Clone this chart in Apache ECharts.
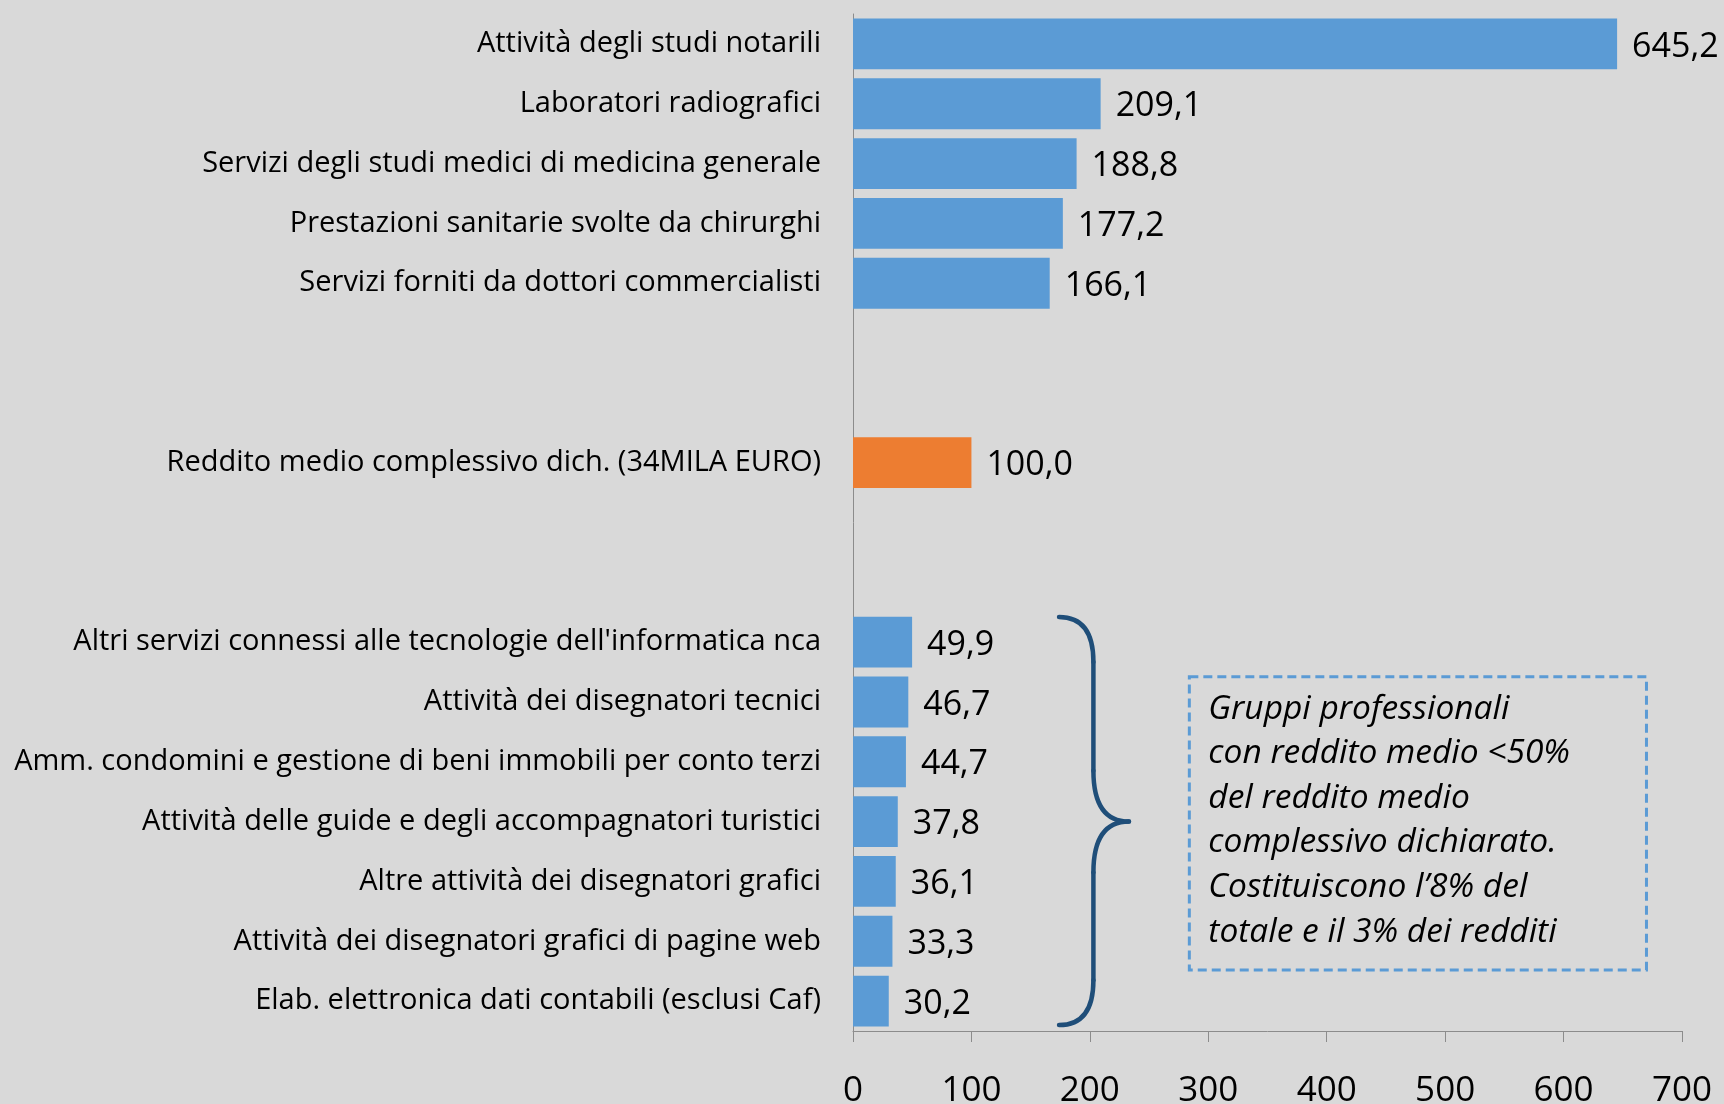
<!DOCTYPE html>
<html>
<head>
<meta charset="utf-8">
<script src="https://cdn.jsdelivr.net/npm/echarts@6/dist/echarts.min.js"></script>
<style>
html,body{margin:0;padding:0;background:#D9D9D9;}
#main{width:1724px;height:1104px;}
</style>
</head>
<body>
<div id="main"></div>
<script>
const categories = [
  'Attività degli studi notarili',
  'Laboratori radiografici',
  'Servizi degli studi medici di medicina generale',
  'Prestazioni sanitarie svolte da chirurghi',
  'Servizi forniti da dottori commercialisti',
  ' ', '  ',
  'Reddito medio complessivo dich. (34MILA EURO)',
  '   ', '    ',
  "Altri servizi connessi alle tecnologie dell'informatica nca",
  'Attività dei disegnatori tecnici',
  'Amm. condomini e gestione di beni immobili per conto terzi',
  'Attività delle guide e degli accompagnatori turistici',
  'Altre attività dei disegnatori grafici',
  'Attività dei disegnatori grafici di pagine web',
  'Elab. elettronica dati contabili (esclusi Caf)'
];
const values = [645.2, 209.1, 188.8, 177.2, 166.1, null, null, 100.0, null, null, 49.9, 46.7, 44.7, 37.8, 36.1, 33.3, 30.2];
const highlightCategory = 'Reddito medio complessivo dich. (34MILA EURO)';
const xTicks = [0, 100, 200, 300, 400, 500, 600, 700];
const noteLines = [
  'Gruppi professionali',
  'con reddito medio <50%',
  'del reddito medio',
  'complessivo dichiarato.',
  'Costituiscono l\u20198% del',
  'totale e il 3% dei redditi'
];

const FONT = "'Open Sans', 'Noto Sans', sans-serif";
const chart = echarts.init(document.getElementById('main'));
chart.setOption({
  backgroundColor: '#D9D9D9',
  animation: false,
  grid: {left: 853, right: 42, top: 14, bottom: 73, containLabel: false, outerBoundsMode: 'none'},
  xAxis: {
    type: 'value', min: xTicks[0], max: xTicks[xTicks.length-1], interval: 100,
    axisLine: {show: true, lineStyle: {color: '#8C8C8C', width: 1}},
    axisTick: {show: true, length: 11, inside: false, lineStyle: {color: '#8C8C8C'}},
    splitLine: {show: false},
    axisLabel: {margin: 43, color: '#000', fontSize: 35, fontFamily: FONT}
  },
  yAxis: {
    type: 'category', inverse: true, data: categories,
    axisLine: {show: true, lineStyle: {color: '#8C8C8C', width: 1}},
    axisTick: {show: false},
    axisLabel: {margin: 32, color: '#000', fontSize: 29, fontFamily: FONT}
  },
  series: [{
    type: 'bar',
    data: values,
    barCategoryGap: '15%',
    itemStyle: {
      color: p => categories[p.dataIndex] === highlightCategory ? '#ED7D31' : '#5B9BD5'
    },
    label: {
      show: true, position: 'right', distance: 15, offset: [0, 3],
      color: '#000', fontSize: 34, fontFamily: FONT,
      formatter: p => p.value == null ? '' : p.value.toFixed(1).replace('.', ',')
    }
  }]
});

function drawAnnotations() {
  const p0 = chart.convertToPixel({gridIndex: 0}, [0, 10]);
  const p1 = chart.convertToPixel({gridIndex: 0}, [0, 11]);
  const slot = p1[1] - p0[1];
  const yOf = c => p0[1] + (c - 10) * slot;
  const xOf = v => chart.convertToPixel({gridIndex: 0}, [v, 10])[0];
  const x0 = xOf(174), xm = xOf(203), xt = xOf(233);
  const yTop = yOf(10 - 0.42), yBot = yOf(16 + 0.4), yMid = yOf(13);
  const a = 0.75 * slot, b = 0.85 * slot;
  const braceStyle = {fill: null, stroke: '#1F4E79', lineWidth: 4.5, lineCap: 'round'};
  const curve = (x1, y1, cx, cy, x2, y2) => ({
    type: 'bezierCurve', silent: true,
    shape: {x1: x1, y1: y1, cpx1: cx, cpy1: cy, x2: x2, y2: y2},
    style: braceStyle
  });
  const line = (x1, y1, x2, y2) => ({
    type: 'line', silent: true,
    shape: {x1: x1, y1: y1, x2: x2, y2: y2},
    style: braceStyle
  });
  const bx0 = xOf(284), bx1 = xOf(670);
  const by0 = yOf(10.58), by1 = yOf(15.48);
  chart.setOption({
    graphic: [
      curve(x0, yTop, xm, yTop, xm, yTop + a),
      line(xm, yTop + a, xm, yMid - b),
      curve(xm, yMid - b, xm, yMid, xt, yMid),
      curve(xt, yMid, xm, yMid, xm, yMid + b),
      line(xm, yMid + b, xm, yBot - a),
      curve(xm, yBot - a, xm, yBot, x0, yBot),
      {type: 'rect', silent: true, shape: {x: bx0, y: by0, width: bx1 - bx0, height: by1 - by0},
       style: {fill: null, stroke: '#5B9BD5', lineWidth: 3, lineDash: [9, 5]}},
      {type: 'text', silent: true, x: bx0 + 19, y: by0 + 10,
       style: {text: noteLines.join('\n'), fill: '#000', fontSize: 33.5, fontStyle: 'italic',
               fontFamily: FONT, lineHeight: 44.6, textAlign: 'left', textVerticalAlign: 'top'}}
    ]
  });
}
drawAnnotations();
</script>
</body>
</html>
